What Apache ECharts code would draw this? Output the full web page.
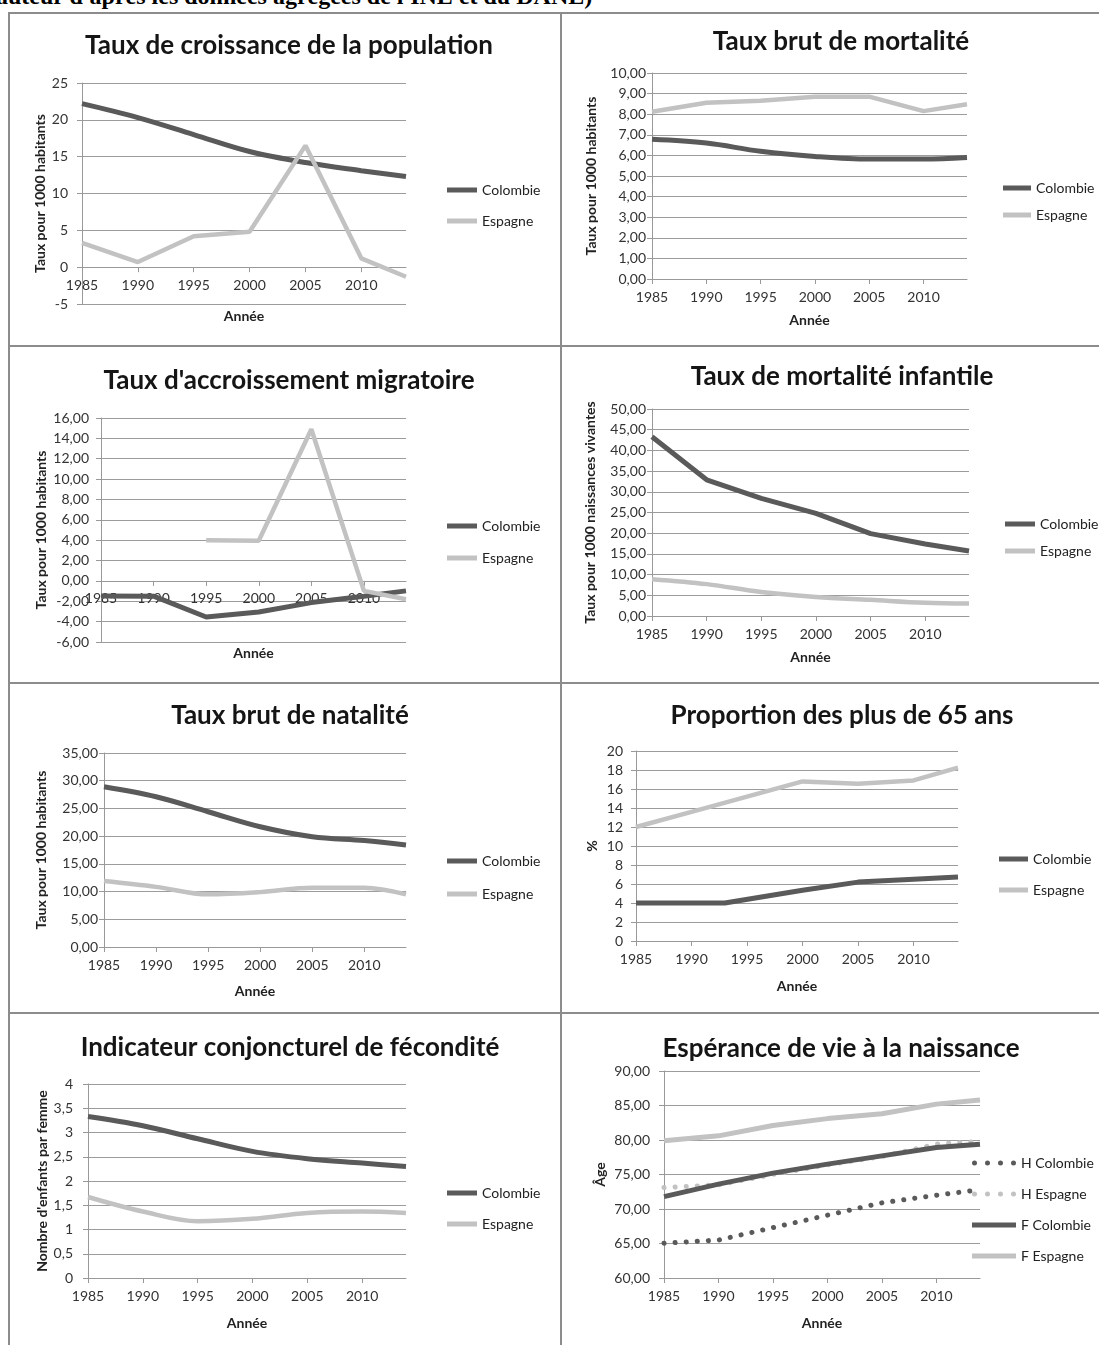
<!DOCTYPE html>
<html><head><meta charset="utf-8">
<script src="https://cdn.jsdelivr.net/npm/echarts@6/dist/echarts.min.js"></script>
<style>
html,body{margin:0;padding:0;background:#fff;width:1099px;height:1345px;overflow:hidden;}
#chart{position:absolute;left:0;top:0;width:1099px;height:1345px;}
.hdr{position:absolute;left:-4px;top:-17px;font:bold 24px "Liberation Serif","Times New Roman",serif;color:#000;white-space:nowrap;}
.b{position:absolute;background:#8c8c8c;}
</style></head><body>
<div class="hdr">auteur d'après les données agrégées de l'INE et du DANE)</div>
<div class="b" style="left:8px;top:12px;width:1091px;height:2px"></div>
<div class="b" style="left:8px;top:345px;width:1091px;height:2px"></div>
<div class="b" style="left:8px;top:682px;width:1091px;height:2px"></div>
<div class="b" style="left:8px;top:1012px;width:1091px;height:2px"></div>
<div class="b" style="left:8px;top:12px;width:2px;height:1333px"></div>
<div class="b" style="left:560px;top:12px;width:2px;height:1333px"></div>
<div id="chart"></div>
<script>
// ---------- data ----------
const years = [1985, 1990, 1995, 2000, 2005, 2010, 2014];
const yearTicks = [1985, 1990, 1995, 2000, 2005, 2010];

const croissanceColombie = [22.2, 20.3, 18.0, 15.7, 14.2, 13.1, 12.3];
const croissanceEspagne  = [3.3, 0.7, 4.2, 4.8, 16.5, 1.2, -1.3];

const mortaliteColombie = [6.78, 6.6, 6.2, 5.95, 5.82, 5.82, 5.9];
const mortaliteEspagne  = [8.12, 8.56, 8.65, 8.85, 8.85, 8.15, 8.48];

const migratoireColombie = [-1.47, -1.5, -3.54, -3.05, -2.13, -1.5, -0.98];
const migratoireEspagne  = [null, null, 4.0, 3.95, 14.9, -0.98, -1.8];

const infantileColombie = [43.3, 32.9, 28.4, 24.8, 19.9, 17.4, 15.7];
const infantileEspagne  = [8.9, 7.7, 5.8, 4.6, 3.9, 3.2, 3.0];

const nataliteColombie = [28.9, 27.1, 24.4, 21.7, 19.9, 19.2, 18.4];
const nataliteEspagne  = [11.9, 10.85, 9.5, 9.9, 10.7, 10.7, 9.5];

const plus65YearsColombie = [1985, 1990, 1993, 2000, 2005, 2010, 2014];
const plus65Colombie = [4.0, 4.0, 4.0, 5.34, 6.2, 6.5, 6.74];
const plus65Espagne  = [12.0, 13.6, 15.2, 16.8, 16.55, 16.9, 18.25];

const feconditeColombie = [3.33, 3.14, 2.87, 2.61, 2.46, 2.37, 2.3];
const feconditeEspagne  = [1.67, 1.37, 1.17, 1.22, 1.34, 1.37, 1.34];

const esperanceHColombie = [65.05, 65.5, 67.3, 69.1, 70.9, 72.0, 72.8];
const esperanceHEspagne  = [73.1, 73.5, 75.0, 76.4, 77.6, 79.4, 79.8];
const esperanceFColombie = [71.8, 73.6, 75.2, 76.5, 77.7, 78.9, 79.4];
const esperanceFEspagne  = [79.9, 80.6, 82.1, 83.1, 83.8, 85.2, 85.8];

const titles = [
  'Taux de croissance de la population', 'Taux brut de mortalité',
  "Taux d'accroissement migratoire", 'Taux de mortalité infantile',
  'Taux brut de natalité', 'Proportion des plus de 65 ans',
  'Indicateur conjoncturel de fécondité', 'Espérance de vie à la naissance'
];
const yNames = [
  'Taux pour 1000 habitants', 'Taux pour 1000 habitants',
  'Taux pour 1000 habitants', 'Taux pour 1000 naissances vivantes',
  'Taux pour 1000 habitants', '%',
  "Nombre d'enfants par femme", 'Âge'
];
const xName = 'Année';

// ---------- layout / style ----------
const FONT = 'Lato, "Open Sans", sans-serif';
const DARK = '#5a5a5a', LIGHT = '#c2c2c2';
const L = [
  {tx:284, ty:41, left:82, top:83, right:406, bottom:304, min:-5, max:25, step:5, dec:0, yGap:35, xGap:42, yMar:14, lgX:447, lgW:30, lgY:190, pitch:31},
  {tx:836, ty:37, left:652, top:73, right:967, bottom:279, min:0, max:10, step:1, dec:2, yGap:54, xGap:34, yMar:6, lgX:1003, lgW:28, lgY:188, pitch:27},
  {tx:284, ty:376, left:101, top:418, right:406, bottom:642, min:-6, max:16, step:2, dec:2, yGap:53, xGap:66, yMar:12, lgX:447, lgW:30, lgY:526, pitch:32},
  {tx:837, ty:372, left:652, top:409, right:969, bottom:616, min:0, max:50, step:5, dec:2, yGap:55, xGap:34, yMar:6, lgX:1005, lgW:30, lgY:524, pitch:27},
  {tx:285, ty:711, left:104, top:753, right:406, bottom:947, min:0, max:35, step:5, dec:2, yGap:56, xGap:37, yMar:6, lgX:447, lgW:30, lgY:861, pitch:33},
  {tx:837, ty:711, left:636, top:751, right:958, bottom:941, min:0, max:20, step:2, dec:0, yGap:37, xGap:38, yMar:13, lgX:999, lgW:29, lgY:859, pitch:31},
  {tx:285, ty:1043, left:88, top:1084, right:406, bottom:1278, min:0, max:4, step:0.5, dec:-1, yGap:39, xGap:38, yMar:15, lgX:447, lgW:30, lgY:1193, pitch:31},
  {tx:836, ty:1044, left:664, top:1071, right:980, bottom:1278, min:60, max:90, step:5, dec:2, yGap:57, xGap:38, yMar:14, lgX:972, lgW:44, lgY:1163, pitch:31}
];

function fmt(dec) {
  return function (v) {
    if (dec === -1) return String(v).replace('.', ',');
    return v.toFixed(dec).replace('.', ',');
  };
}
function pairs(xs, ys) {
  const out = [];
  xs.forEach((x, i) => { if (ys[i] !== null && ys[i] !== undefined) out.push([x, ys[i]]); });
  return out;
}

const grids = [], xAxes = [], yAxes = [], titleOpts = [], legends = [], series = [];
L.forEach((p, i) => {
  const h = p.bottom - p.top;
  // x axis crosses the value axis at zero (as in the original)
  const zeroOffset = p.min < 0 ? -(-p.min / (p.max - p.min)) * h : 0;
  grids.push({left:p.left, top:p.top, width:p.right - p.left, height:h,
    containLabel:false, outerBoundsMode:'none'});
  titleOpts.push({text:titles[i], left:p.tx, top:p.ty, textAlign:'center', textVerticalAlign:'middle',
    textStyle:{fontFamily:FONT, fontSize:26, fontWeight:'bold', color:'#151515'}});
  xAxes.push({type:'value', gridIndex:i, min:1985, max:2014, interval:5, offset:zeroOffset,
    name:xName, nameLocation:'middle', nameGap:p.xGap, nameMoveOverlap:false,
    nameTextStyle:{fontFamily:FONT, fontSize:14, fontWeight:'bold', color:'#222'},
    axisLine:{show:true, onZero:false, lineStyle:{color:'#999', width:1}},
    axisTick:{show:true, length:5, lineStyle:{color:'#999'}},
    axisLabel:{showMaxLabel:false, margin:11, fontFamily:FONT, fontSize:14, color:'#333',
      formatter: v => (yearTicks.indexOf(v) >= 0 ? String(v) : '')},
    splitLine:{show:false}});
  yAxes.push({type:'value', gridIndex:i, min:p.min, max:p.max, interval:p.step,
    name:yNames[i], nameLocation:'middle', nameRotate:90, nameGap:p.yGap, nameMoveOverlap:false,
    nameTextStyle:{fontFamily:FONT, fontSize:14, fontWeight:'bold', color:'#222'},
    axisLine:{show:true, lineStyle:{color:'#999', width:1}},
    axisTick:{show:true, length:5, lineStyle:{color:'#999'}},
    axisLabel:{margin:p.yMar, fontFamily:FONT, fontSize:14, color:'#333', formatter:fmt(p.dec)},
    splitLine:{show:true, lineStyle:{color:'#9c9c9c', width:1}}});
});

function addLine(i, name, xs, ys, color, width, smooth, dotted) {
  series.push({type:'line', name:name, xAxisIndex:i, yAxisIndex:i, data:pairs(xs, ys),
    symbol:'none', smooth:smooth ? 0.35 : false, silent:true, animation:false,
    itemStyle:{color:color},
    lineStyle:{color:color, width:width, type: dotted ? [0.1, 11] : 'solid', cap: dotted ? 'round' : 'butt'}});
}
addLine(0, 'Colombie', years, croissanceColombie, DARK, 5, true);
addLine(0, 'Espagne', years, croissanceEspagne, LIGHT, 4.5, false);
addLine(1, 'Colombie', years, mortaliteColombie, DARK, 5, true);
addLine(1, 'Espagne', years, mortaliteEspagne, LIGHT, 4.5, false);
addLine(2, 'Colombie', years, migratoireColombie, DARK, 5, false);
addLine(2, 'Espagne', years, migratoireEspagne, LIGHT, 4.5, false);
addLine(3, 'Colombie', years, infantileColombie, DARK, 5, false);
addLine(3, 'Espagne', years, infantileEspagne, LIGHT, 4.5, true);
addLine(4, 'Colombie', years, nataliteColombie, DARK, 5, true);
addLine(4, 'Espagne', years, nataliteEspagne, LIGHT, 4.5, true);
addLine(5, 'Colombie', plus65YearsColombie, plus65Colombie, DARK, 5, false);
addLine(5, 'Espagne', years, plus65Espagne, LIGHT, 4.5, false);
addLine(6, 'Colombie', years, feconditeColombie, DARK, 5, true);
addLine(6, 'Espagne', years, feconditeEspagne, LIGHT, 4.5, true);
addLine(7, 'H Colombie', years, esperanceHColombie, DARK, 5, false, true);
addLine(7, 'H Espagne', years, esperanceHEspagne, LIGHT, 5, false, true);
addLine(7, 'F Colombie', years, esperanceFColombie, DARK, 5, false);
addLine(7, 'F Espagne', years, esperanceFEspagne, LIGHT, 5, false);

const DOTS = 'path://M2.5,0a2.5,2.5 0 1,1 0,5a2.5,2.5 0 1,1 0,-5zM15.5,0a2.5,2.5 0 1,1 0,5a2.5,2.5 0 1,1 0,-5zM28.5,0a2.5,2.5 0 1,1 0,5a2.5,2.5 0 1,1 0,-5zM41.5,0a2.5,2.5 0 1,1 0,5a2.5,2.5 0 1,1 0,-5z';
L.forEach((p, i) => {
  const names = i === 7
    ? [{name:'H Colombie', icon:DOTS}, {name:'H Espagne', icon:DOTS}, {name:'F Colombie'}, {name:'F Espagne'}]
    : [{name:'Colombie'}, {name:'Espagne'}];
  legends.push({orient:'vertical', left:p.lgX, top:p.lgY - 7, padding:0, itemWidth:p.lgW, itemHeight:5,
    itemGap:p.pitch - 14, icon:'rect', selectedMode:false, data:names,
    textStyle:{fontFamily:FONT, fontSize:14, color:'#222'}});
});

const chart = echarts.init(document.getElementById('chart'), null, {renderer:'canvas'});
chart.setOption({animation:false, backgroundColor:'transparent', title:titleOpts, grid:grids,
  xAxis:xAxes, yAxis:yAxes, legend:legends, series:series});
</script>
</body></html>
